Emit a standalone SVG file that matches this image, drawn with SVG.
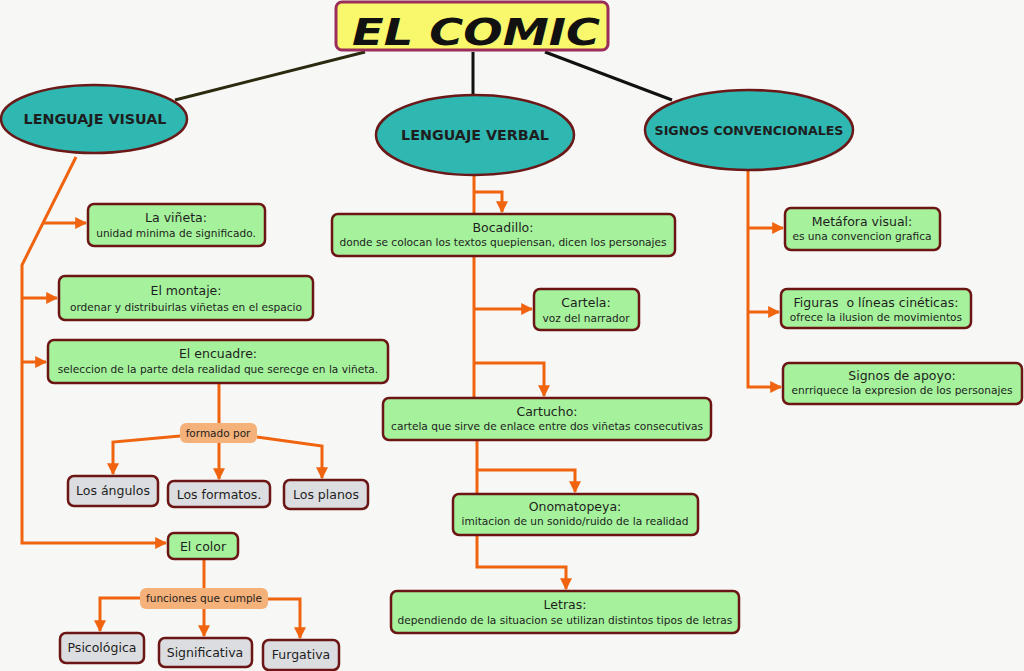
<svg xmlns="http://www.w3.org/2000/svg" width="1024" height="671" viewBox="0 0 1024 671">
<defs>
<marker id="ah" viewBox="0 0 10 10" refX="9" refY="5" markerWidth="12" markerHeight="12" markerUnits="userSpaceOnUse" orient="auto"><path d="M0,0 L10,5 L0,10 z" fill="#f0640f"/></marker>
<style>
.bg{fill:#f7f7f5}
.ell{fill:#2fb7b1;stroke:#6b1818;stroke-width:2.5}
.box{fill:#a6f29c;stroke:#6b1515;stroke-width:2.5}
.gbox{fill:#dcdde0;stroke:#6b1515;stroke-width:2.5}
.obox{fill:#f4b17a;stroke:none}
.c{fill:none;stroke:#f0640f;stroke-width:3}
.t{font-family:"DejaVu Sans",Verdana,sans-serif;fill:#1e1e1e;text-anchor:middle}
.h{font-size:12.5px}
.d{font-size:10.6px}
.b{font-weight:bold;font-size:14.3px}
.g{font-size:12.5px}
.o{font-size:10.5px}
</style>
</defs>
<rect class="bg" x="0" y="0" width="1024" height="671"/>
<g id="connectors">
<path d="M365,52 L175,100" fill="none" stroke="#2b2a0e" stroke-width="3"/>
<path d="M473,52 L473,97" fill="none" stroke="#111" stroke-width="3"/>
<path d="M545,52 L672,100" fill="none" stroke="#111" stroke-width="3"/>
<path class="c" d="M76,157 L22,265 L22,543 L166,543" marker-end="url(#ah)"/>
<path class="c" d="M43,223 L86,223" marker-end="url(#ah)"/>
<path class="c" d="M22,298 L57,298" marker-end="url(#ah)"/>
<path class="c" d="M22,362 L46,362" marker-end="url(#ah)"/>
<path class="c" d="M219,383 L219,423"/>
<path class="c" d="M180,436 L113,442 L113,474" marker-end="url(#ah)"/>
<path class="c" d="M219,443 L219,479" marker-end="url(#ah)"/>
<path class="c" d="M257,437 L322,446 L322,478" marker-end="url(#ah)"/>
<path class="c" d="M204,559 L204,588"/>
<path class="c" d="M140,598 L100,598 L100,631" marker-end="url(#ah)"/>
<path class="c" d="M204,609 L204,636" marker-end="url(#ah)"/>
<path class="c" d="M268,599 L300,599 L300,638" marker-end="url(#ah)"/>
<path class="c" d="M474,176 L474,214"/>
<path class="c" d="M474,192 L502,192 L502,212" marker-end="url(#ah)"/>
<path class="c" d="M474,256 L474,398"/>
<path class="c" d="M474,309 L532,309" marker-end="url(#ah)"/>
<path class="c" d="M474,363 L544,363 L544,396" marker-end="url(#ah)"/>
<path class="c" d="M477,440 L477,494"/>
<path class="c" d="M477,470 L575,470 L575,492" marker-end="url(#ah)"/>
<path class="c" d="M477,535 L477,567 L566,567 L566,589" marker-end="url(#ah)"/>
<path class="c" d="M748,170 L748,387 L781,387" marker-end="url(#ah)"/>
<path class="c" d="M748,228 L783,228" marker-end="url(#ah)"/>
<path class="c" d="M748,312 L779,312" marker-end="url(#ah)"/>
</g>
<g id="title">
<rect x="336" y="2" width="272" height="48" rx="6" fill="#f9f76c" stroke="#9b2d5a" stroke-width="3"/>
<text x="352" y="45" textLength="248" lengthAdjust="spacingAndGlyphs" style="font-family:'DejaVu Sans',sans-serif;font-weight:bold;font-style:italic;font-size:37px;fill:#111">EL COMIC</text>
</g>
<g id="lenguaje-visual">
<ellipse class="ell" cx="94" cy="119" rx="93" ry="34"/>
<text class="t b" x="95" y="124">LENGUAJE VISUAL</text>
</g>
<g id="lenguaje-verbal">
<ellipse class="ell" cx="475" cy="135" rx="99" ry="40"/>
<text class="t b" x="475" y="140">LENGUAJE VERBAL</text>
</g>
<g id="signos-convencionales">
<ellipse class="ell" cx="749" cy="130" rx="104" ry="40"/>
<text class="t b" x="749" y="135" style="font-size:12.6px">SIGNOS CONVENCIONALES</text>
</g>
<g id="vineta">
<rect class="box" x="88" y="204" width="177" height="42" rx="6"/>
<text class="t h" x="176" y="222">La viñeta:</text>
<text class="t d" x="176" y="237">unidad minima de significado.</text>
</g>
<g id="montaje">
<rect class="box" x="59" y="276" width="254" height="44" rx="6"/>
<text class="t h" x="186" y="295">El montaje:</text>
<text class="t d" x="186" y="311">ordenar y distribuirlas viñetas en el espacio</text>
</g>
<g id="encuadre">
<rect class="box" x="48" y="340" width="340" height="43" rx="6"/>
<text class="t h" x="218" y="358">El encuadre:</text>
<text class="t d" x="218" y="373">seleccion de la parte dela realidad que serecge en la viñeta.</text>
</g>
<g id="formado-por">
<rect class="obox" x="180" y="423" width="77" height="20" rx="6"/>
<text class="t o" x="218" y="437">formado por</text>
</g>
<g id="angulos">
<rect class="gbox" x="68" y="476" width="90" height="30" rx="6"/>
<text class="t g" x="113" y="495">Los ángulos</text>
</g>
<g id="formatos">
<rect class="gbox" x="168" y="481" width="102" height="26" rx="6"/>
<text class="t g" x="219" y="499">Los formatos.</text>
</g>
<g id="planos">
<rect class="gbox" x="284" y="480" width="84" height="29" rx="6"/>
<text class="t g" x="326" y="499">Los planos</text>
</g>
<g id="color">
<rect class="box" x="168" y="533" width="70" height="26" rx="6"/>
<text class="t g" x="203" y="551">El color</text>
</g>
<g id="funciones">
<rect class="obox" x="140" y="588" width="128" height="21" rx="6"/>
<text class="t o" x="204" y="602">funciones que cumple</text>
</g>
<g id="psicologica">
<rect class="gbox" x="60" y="633" width="84" height="30" rx="6"/>
<text class="t g" x="102" y="652">Psicológica</text>
</g>
<g id="significativa">
<rect class="gbox" x="159" y="638" width="93" height="29" rx="6"/>
<text class="t g" x="205" y="657">Significativa</text>
</g>
<g id="furgativa">
<rect class="gbox" x="263" y="640" width="76" height="30" rx="6"/>
<text class="t g" x="301" y="659">Furgativa</text>
</g>
<g id="bocadillo">
<rect class="box" x="332" y="214" width="343" height="42" rx="6"/>
<text class="t h" x="503" y="232">Bocadillo:</text>
<text class="t d" x="503" y="246">donde se colocan los textos quepiensan, dicen los personajes</text>
</g>
<g id="cartela">
<rect class="box" x="534" y="289" width="105" height="41" rx="6"/>
<text class="t h" x="586" y="307">Cartela:</text>
<text class="t d" x="586" y="322">voz del narrador</text>
</g>
<g id="cartucho">
<rect class="box" x="383" y="398" width="328" height="42" rx="6"/>
<text class="t h" x="547" y="416">Cartucho:</text>
<text class="t d" x="547" y="430">cartela que sirve de enlace entre dos viñetas consecutivas</text>
</g>
<g id="onomatopeya">
<rect class="box" x="453" y="494" width="245" height="41" rx="6"/>
<text class="t h" x="575" y="511">Onomatopeya:</text>
<text class="t d" x="575" y="525">imitacion de un sonido/ruido de la realidad</text>
</g>
<g id="letras">
<rect class="box" x="391" y="591" width="348" height="42" rx="6"/>
<text class="t h" x="565" y="609">Letras:</text>
<text class="t d" x="565" y="624">dependiendo de la situacion se utilizan distintos tipos de letras</text>
</g>
<g id="metafora">
<rect class="box" x="785" y="208" width="155" height="42" rx="6"/>
<text class="t h" x="862" y="226">Metáfora visual:</text>
<text class="t d" x="862" y="240">es una convencion grafica</text>
</g>
<g id="figuras">
<rect class="box" x="781" y="289" width="190" height="39" rx="6"/>
<text class="t h" x="876" y="307" xml:space="preserve">Figuras  o líneas cinéticas:</text>
<text class="t d" x="876" y="321">ofrece la ilusion de movimientos</text>
</g>
<g id="apoyo">
<rect class="box" x="783" y="363" width="239" height="41" rx="6"/>
<text class="t h" x="902" y="380">Signos de apoyo:</text>
<text class="t d" x="902" y="394">enrriquece la expresion de los personajes</text>
</g>
</svg>
